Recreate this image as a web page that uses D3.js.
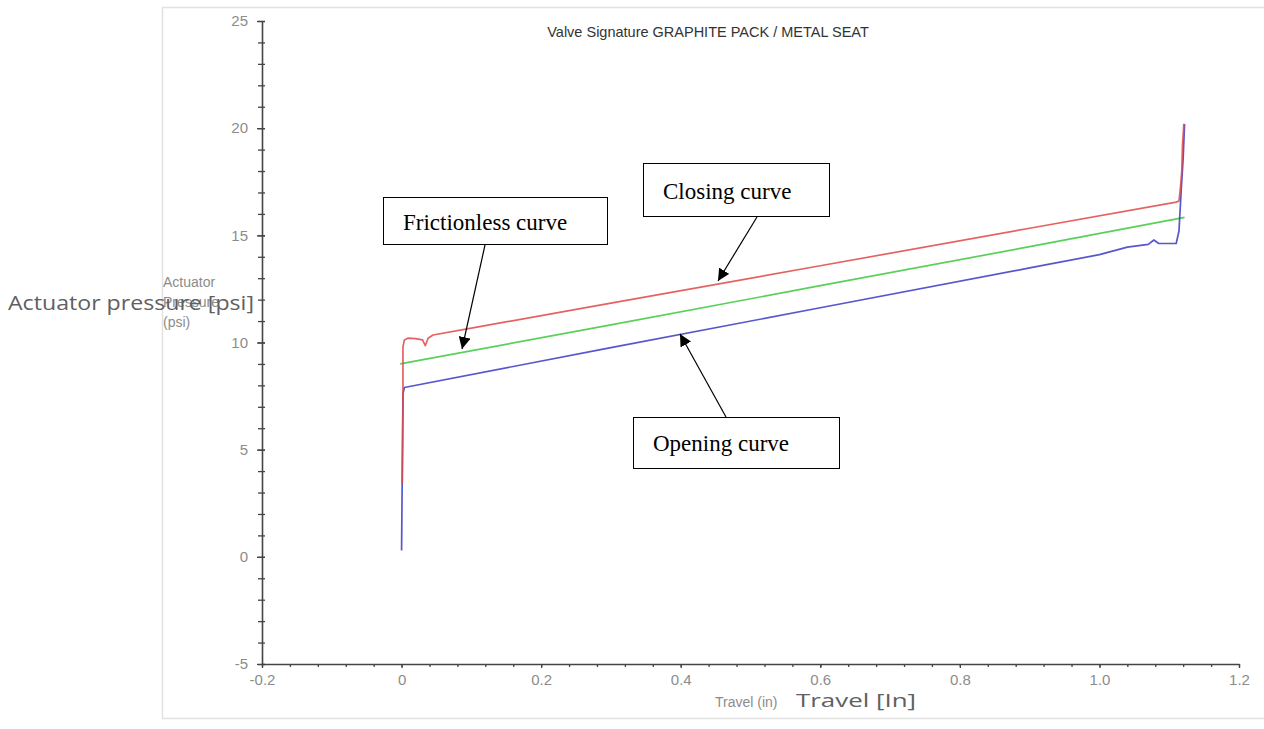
<!DOCTYPE html>
<html><head><meta charset="utf-8">
<script src="https://cdn.jsdelivr.net/npm/d3@7"></script>
<style>html,body{margin:0;padding:0;background:#fff;overflow:hidden}</style>
</head><body><svg id="c" width="1264" height="729"></svg>
<script>
// ---------- data ----------
const title = "Valve Signature GRAPHITE PACK / METAL SEAT";
const xTickValues = [-0.2, 0, 0.2, 0.4, 0.6, 0.8, 1.0, 1.2];
const xTickLabels = ["-0.2", "0", "0.2", "0.4", "0.6", "0.8", "1.0", "1.2"];
const yTickValues = [-5, 0, 5, 10, 15, 20, 25];
const yTickLabels = ["-5", "0", "5", "10", "15", "20", "25"];

// Closing curve (red)
const closingTravel   = [1.121, 1.119, 1.118, 1.116, 1.114, 1.11, 0.9, 0.6, 0.3, 0.1, 0.045, 0.038, 0.034, 0.03, 0.02, 0.009, 0.004, 0.002, 0.002, 0.001];
const closingPressure = [20.2, 19.2, 18.0, 17.2, 16.6, 16.55, 15.33, 13.58, 11.84, 10.67, 10.35, 10.2, 9.85, 10.12, 10.18, 10.2, 10.12, 9.8, 7.0, 3.4];

// Frictionless curve (green)
const frictionTravel   = [-0.002, 0.3, 0.6, 0.9, 1.122];
const frictionPressure = [9.0, 10.82, 12.65, 14.47, 15.84];

// Opening curve (blue)
const openingTravel   = [0.0, 0.001, 0.002, 0.004, 0.3, 0.6, 0.9, 1.0, 1.04, 1.07, 1.078, 1.085, 1.11, 1.114, 1.117, 1.12, 1.122];
const openingPressure = [0.3, 4.0, 7.6, 7.9, 9.76, 11.62, 13.48, 14.1, 14.45, 14.58, 14.78, 14.62, 14.62, 15.2, 17.0, 18.6, 20.2];

const seriesNames  = ["Frictionless", "Opening", "Closing"];

// ---------- layout / style ----------
const svg = d3.select("#c");
const x = d3.scaleLinear().domain([-0.2, 1.2]).range([262, 1239]);
const y = d3.scaleLinear().domain([-5, 25]).range([664, 21]);
const sans = "Liberation Sans, Arial, sans-serif";

// outer frame
svg.append("rect").attr("x", 162.5).attr("y", 7.5).attr("width", 1110).attr("height", 711)
  .attr("fill", "none").attr("stroke", "#e2e2e2").attr("stroke-width", 1.5);

// title
svg.append("text").attr("x", 708).attr("y", 37).attr("text-anchor", "middle")
  .attr("font-family", sans).attr("font-size", 14.5)
  .attr("fill", "#333").text(title);

// y axis
const yMinor = d3.range(0, 31).map(i => -5 + i);
const yAxisMinor = svg.append("g").attr("transform", `translate(${x(-0.2)},0)`)
  .call(d3.axisLeft(y).tickValues(yMinor).tickSizeInner(4).tickSizeOuter(0).tickFormat(""));
yAxisMinor.selectAll(".tick line").attr("x1", 3).attr("stroke", "#444").attr("stroke-width", 1.3);
yAxisMinor.select(".domain").attr("stroke", "#444").attr("stroke-width", 1.6);

const yAxisMajor = svg.append("g").attr("transform", `translate(${x(-0.2)},0)`)
  .call(d3.axisLeft(y).tickValues(yTickValues).tickSizeInner(5).tickSizeOuter(0).tickPadding(9)
    .tickFormat((d, i) => yTickLabels[i]));
yAxisMajor.select(".domain").remove();
yAxisMajor.selectAll(".tick line").attr("x1", 3).attr("stroke", "#444").attr("stroke-width", 1.3);
yAxisMajor.selectAll(".tick text").attr("font-family", sans)
  .attr("font-size", 15).attr("fill", "#8c8c8c");

// x axis
const xMinor = d3.range(0, 36).map(i => -0.2 + i * 0.04);
const xAxisMinor = svg.append("g").attr("transform", `translate(0,${y(-5)})`)
  .call(d3.axisBottom(x).tickValues(xMinor).tickSizeInner(3).tickSizeOuter(0).tickFormat(""));
xAxisMinor.selectAll(".tick line").attr("stroke", "#444").attr("stroke-width", 1.3);
xAxisMinor.select(".domain").attr("stroke", "#444").attr("stroke-width", 1.6);

const xAxisMajor = svg.append("g").attr("transform", `translate(0,${y(-5)})`)
  .call(d3.axisBottom(x).tickValues(xTickValues).tickSizeInner(4).tickSizeOuter(0).tickPadding(6)
    .tickFormat((d, i) => xTickLabels[i]));
xAxisMajor.select(".domain").remove();
xAxisMajor.selectAll(".tick line").attr("stroke", "#444").attr("stroke-width", 1.3);
xAxisMajor.selectAll(".tick text").attr("font-family", sans)
  .attr("font-size", 15).attr("fill", "#8c8c8c");

// axis titles (original, small)
const yt = svg.append("text").attr("font-family", sans)
  .attr("font-size", 14).attr("fill", "#8c8c8c");
["Actuator", "Pressure", "(psi)"].forEach((t, i) =>
  yt.append("tspan").attr("x", 163).attr("y", 287 + i * 20).text(t));
svg.append("text").attr("x", 715).attr("y", 707).attr("font-family", sans)
  .attr("font-size", 14).attr("fill", "#8c8c8c").text("Travel (in)");

// curves
const line = d3.line().x(d => x(d[0])).y(d => y(d[1]));
const series = [
  {name: seriesNames[0], t: frictionTravel, p: frictionPressure, color: "#3cc83c"},
  {name: seriesNames[1], t: openingTravel, p: openingPressure, color: "#3a3ac4"},
  {name: seriesNames[2], t: closingTravel, p: closingPressure, color: "#e04646"}
];
series.forEach(s => {
  svg.append("path").datum(s.t.map((v, i) => [v, s.p[i]]))
    .attr("d", line).attr("fill", "none").attr("stroke", s.color)
    .attr("stroke-width", 1.7).attr("stroke-opacity", 0.85).attr("stroke-linejoin", "round");
});

// overlay axis titles (larger)
svg.append("text").attr("x", 8).attr("y", 310).attr("font-family", "Open Sans, sans-serif")
  .attr("font-size", 20).attr("textLength", 246).attr("lengthAdjust", "spacingAndGlyphs")
  .attr("fill", "#606060").text("Actuator pressure [psi]");
svg.append("text").attr("x", 796).attr("y", 707).attr("font-family", "Open Sans, sans-serif")
  .attr("font-size", 19).attr("textLength", 120).attr("lengthAdjust", "spacingAndGlyphs")
  .attr("fill", "#606060").text("Travel [In]");

// annotations
const defs = svg.append("defs");
defs.append("marker").attr("id", "ah").attr("viewBox", "0 0 10 10").attr("refX", 10).attr("refY", 5)
  .attr("markerWidth", 12).attr("markerHeight", 12).attr("markerUnits", "userSpaceOnUse")
  .attr("orient", "auto").append("path").attr("d", "M0,0 L10,5 L0,10 z").attr("fill", "#000");

const annotations = [
  {text: "Frictionless curve", box: [383, 197, 224, 47], tx: 403, ty: 230, from: [485, 245], to: [462, 349]},
  {text: "Closing curve", box: [643, 163, 186, 53], tx: 663, ty: 199, from: [757, 217], to: [718, 281]},
  {text: "Opening curve", box: [633, 417, 206, 51], tx: 653, ty: 451, from: [726, 417], to: [680, 334]}
];
annotations.forEach(a => {
  svg.append("line").attr("x1", a.from[0]).attr("y1", a.from[1]).attr("x2", a.to[0]).attr("y2", a.to[1])
    .attr("stroke", "#000").attr("stroke-width", 1.2).attr("marker-end", "url(#ah)");
  svg.append("rect").attr("x", a.box[0] + 0.5).attr("y", a.box[1] + 0.5).attr("width", a.box[2]).attr("height", a.box[3])
    .attr("fill", "#fff").attr("stroke", "#000").attr("stroke-width", 1);
  svg.append("text").attr("x", a.tx).attr("y", a.ty).attr("font-family", "Liberation Serif, Times New Roman, serif")
    .attr("font-size", 23).attr("fill", "#000").text(a.text);
});
</script>
</body></html>
